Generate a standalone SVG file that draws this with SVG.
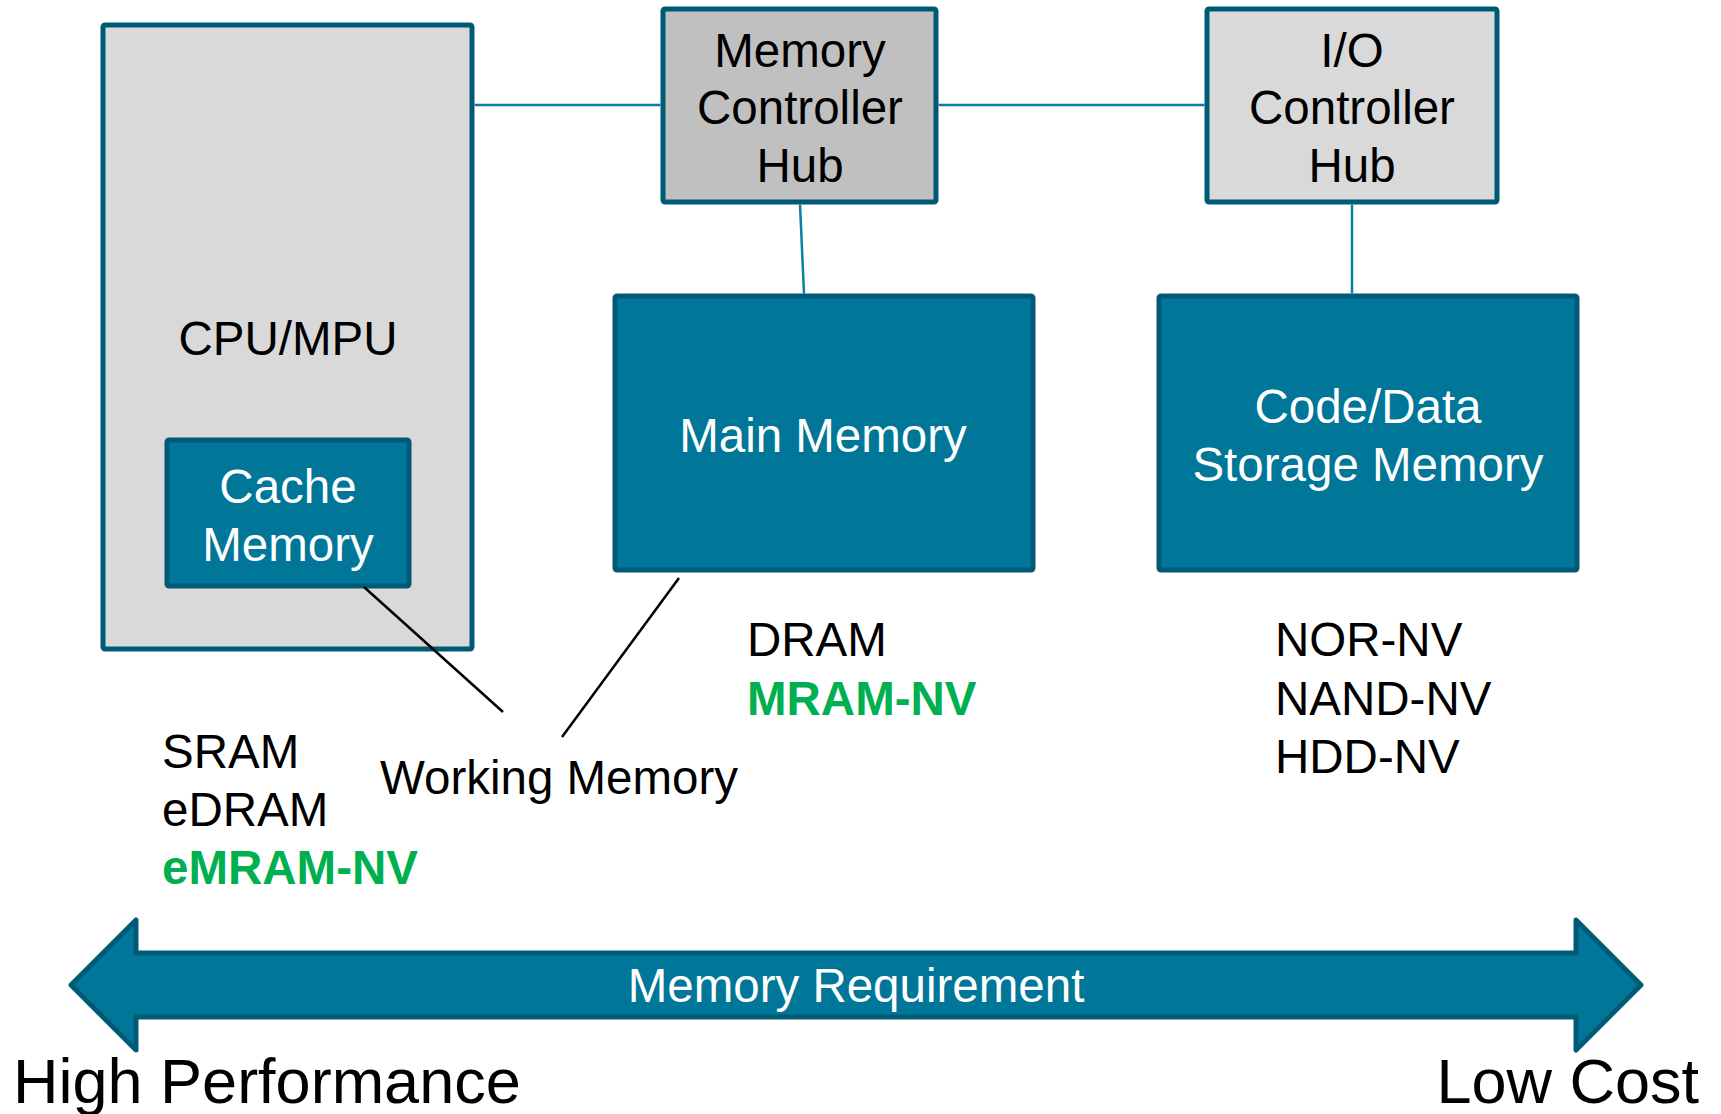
<svg xmlns="http://www.w3.org/2000/svg" width="1721" height="1114" viewBox="0 0 1721 1114">
<style>
.t{font-family:"Liberation Sans",Arial,sans-serif;font-size:47.5px;fill:#000}
.w{fill:#fff}
.c{text-anchor:middle}
.g{fill:#00b050;font-weight:bold}
.grey{fill:#d9d9d9;stroke:#005a75;stroke-width:5}
.teal{fill:#007698;stroke:#005a75;stroke-width:5}
.conn{stroke:#0a7ea4;stroke-width:2.5;fill:none}
.blk{stroke:#000;stroke-width:2.5;fill:none}
</style>
<rect width="1721" height="1114" fill="#fff"/>
<g id="cpu">
<rect class="grey" x="103" y="25" width="369" height="624" rx="2"/>
<text class="t c" x="288" y="355">CPU/MPU</text>
</g>
<g id="cache">
<rect class="teal" x="167" y="440" width="242" height="146" rx="2"/>
<text class="t c w" x="288" y="503">Cache</text>
<text class="t c w" x="288" y="561">Memory</text>
</g>
<g id="mch">
<rect class="grey" x="663" y="9" width="273" height="193" rx="2" style="fill:#c0c0c0"/>
<text class="t c" x="800" y="67">Memory</text>
<text class="t c" x="800" y="124">Controller</text>
<text class="t c" x="800" y="182">Hub</text>
</g>
<g id="ioch">
<rect class="grey" x="1207" y="9" width="290" height="193" rx="2"/>
<text class="t c" x="1352" y="67">I/O</text>
<text class="t c" x="1352" y="124">Controller</text>
<text class="t c" x="1352" y="182">Hub</text>
</g>
<g id="main">
<rect class="teal" x="615" y="296" width="418" height="274" rx="2"/>
<text class="t c w" x="823" y="452">Main Memory</text>
</g>
<g id="storage">
<rect class="teal" x="1159" y="296" width="418" height="274" rx="2"/>
<text class="t c w" x="1368" y="423">Code/Data</text>
<text class="t c w" x="1368" y="481">Storage Memory</text>
</g>
<g id="connectors">
<line class="conn" x1="474.5" y1="105" x2="660.5" y2="105"/>
<line class="conn" x1="938.5" y1="105" x2="1204.5" y2="105"/>
<line class="conn" x1="800" y1="204.5" x2="804" y2="293.5"/>
<line class="conn" x1="1352" y1="204.5" x2="1352" y2="293.5"/>
<line class="blk" x1="364" y1="587" x2="503" y2="712"/>
<line class="blk" x1="679" y1="578" x2="562" y2="737"/>
</g>
<g id="labels">
<text class="t" x="162" y="768">SRAM</text>
<text class="t" x="162" y="826">eDRAM</text>
<text class="t g" x="162" y="884">eMRAM-NV</text>
<text class="t" x="380" y="794">Working Memory</text>
<text class="t" x="747" y="656">DRAM</text>
<text class="t g" x="747" y="715">MRAM-NV</text>
<text class="t" x="1275" y="656">NOR-NV</text>
<text class="t" x="1275" y="715">NAND-NV</text>
<text class="t" x="1275" y="773">HDD-NV</text>
</g>
<g id="arrow">
<polygon points="71,985 136,920 136,953 1576,953 1576,920 1641,985 1576,1050 1576,1017 136,1017 136,1050" fill="#007698" stroke="#005a75" stroke-width="5" stroke-linejoin="round"/>
<text class="t c w" x="856" y="1002">Memory Requirement</text>
</g>
<text class="t" x="13" y="1103" style="font-size:63px">High Performance</text>
<text class="t" x="1699" y="1103" style="font-size:63px;text-anchor:end">Low Cost</text>
</svg>
